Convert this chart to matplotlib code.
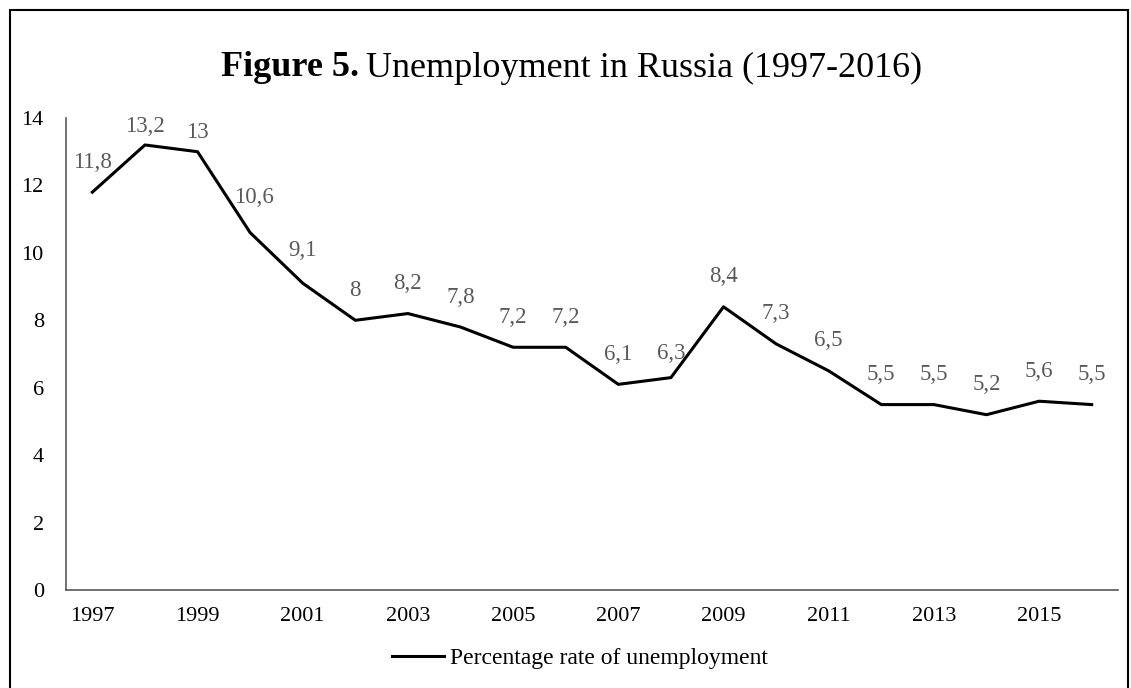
import matplotlib.pyplot as plt
from matplotlib.patches import Rectangle

years = list(range(1997, 2017))
rate = [11.8, 13.2, 13, 10.6, 9.1, 8, 8.2, 7.8, 7.2, 7.2,
        6.1, 6.3, 8.4, 7.3, 6.5, 5.5, 5.5, 5.2, 5.6, 5.5]
series_name = 'Percentage rate of unemployment'

# label nudges (points) where the original labels were moved by hand
nudge = {1998: (0, 6), 1999: (0, 6), 2000: (3, 18), 2001: (0, 16), 2008: (0, 10)}

plt.rcParams['font.family'] = ['Liberation Serif', 'DejaVu Serif']

fig = plt.figure(figsize=(11.31, 6.88), dpi=100)
ax = fig.add_axes([0.0584, 0.1424, 0.9301, 0.6861])

pos = list(range(len(years)))
line, = ax.plot(pos, rate, color='black', linewidth=2.2, label=series_name)

for i, y, v in zip(pos, years, rate):
    txt = ('%g' % v).replace('.', ',')
    dx, dy = nudge.get(y, (0, 14))
    ax.annotate(txt, (i, v), xytext=(dx, dy), textcoords='offset points',
                ha='center', va='bottom', fontsize=16.5, color='#595959')

ax.set_xlim(-0.5, len(years) - 0.5)
ax.set_ylim(0, 14)
ax.set_yticks(range(0, 15, 2))
ax.set_xticks(pos[::2])
ax.set_xticklabels([str(y) for y in years[::2]])
ax.tick_params(axis='both', length=0, labelsize=16)
ax.tick_params(axis='y', pad=16)
ax.tick_params(axis='x', pad=12)

for s in ['top', 'right']:
    ax.spines[s].set_visible(False)
for s in ['left', 'bottom']:
    ax.spines[s].set_color('#595959')
    ax.spines[s].set_linewidth(1.2)

# title: bold part + normal part, centred together
ty = 1 - 68 / 688
t1 = fig.text(0, ty, 'Figure 5.', ha='left', va='center', fontsize=26, fontweight='bold')
t2 = fig.text(0, ty, 'Unemployment in Russia (1997-2016)', ha='left', va='center', fontsize=26)
r = fig.canvas.get_renderer()
w1 = t1.get_window_extent(r).width
w2 = t2.get_window_extent(r).width
gap = 7
x0 = 572 - (w1 + gap + w2) / 2
t1.set_x(x0 / 1131)
t2.set_x((x0 + w1 + gap) / 1131)

fig.legend(handles=[line], loc='center', bbox_to_anchor=(0.513, 1 - 658 / 688),
           frameon=False, fontsize=17, handlelength=2.2, handletextpad=0.25)

fig.patches.append(Rectangle((10 / 1131, -0.01), 1118 / 1131, 1 - 10 / 688 + 0.01,
                             transform=fig.transFigure, fill=False,
                             edgecolor='black', linewidth=1.5))

plt.savefig('out.png')
